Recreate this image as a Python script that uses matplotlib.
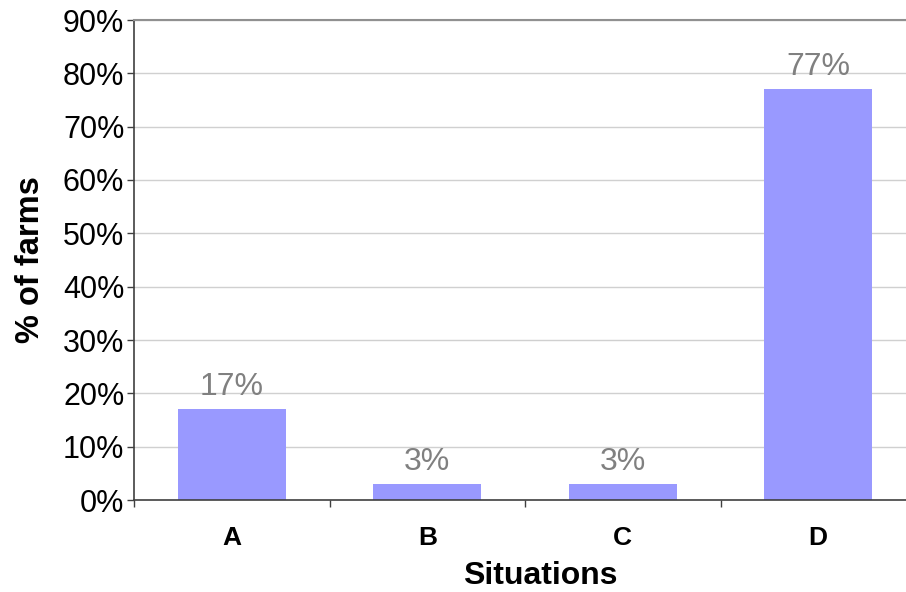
import numpy as np
import matplotlib
matplotlib.use("Agg")
import matplotlib.pyplot as plt
from matplotlib.ticker import FuncFormatter

plt.rcParams["font.family"] = ["Liberation Sans", "DejaVu Sans"]

situations = ["A", "B", "C", "D"]
farms_pct = [17, 3, 3, 77]
value_labels = ["17%", "3%", "3%", "77%"]

fig = plt.figure(figsize=(9.06, 5.92), dpi=100)
ax = fig.add_axes([134 / 906, 1 - 500 / 592, 782 / 906, 480 / 592])

x = np.arange(len(situations))
ax.bar(x, farms_pct, width=0.55, color="#9999ff", zorder=2)

for xi, v, lab in zip(x, farms_pct, value_labels):
    ax.annotate(lab, (xi, v), xytext=(0, 5), textcoords="offset points",
                ha="center", va="bottom", fontsize=23, color="#808080")

ax.set_xlim(-0.5, len(situations) - 0.5)
ax.set_ylim(0, 90)
ax.set_yticks(np.arange(0, 91, 10))
ax.yaxis.set_major_formatter(FuncFormatter(lambda v, p: f"{int(v)}%"))
ax.yaxis.grid(True, color="#d0d0d0", linewidth=1, zorder=0)
ax.set_axisbelow(True)

ax.set_xticks(x)
ax.set_xticklabels(situations, fontsize=19, fontweight="bold")
ax.set_xticks(np.arange(-0.5, len(situations), 1), minor=True)
ax.tick_params(axis="x", which="major", length=0, pad=19)
ax.tick_params(axis="x", which="minor", length=5, width=1, color="#404040", direction="out")
ax.tick_params(axis="y", labelsize=22, length=5, width=1, color="#404040", pad=2)

for s in ["left", "bottom"]:
    ax.spines[s].set_color("#404040")
    ax.spines[s].set_linewidth(1.2)
ax.spines["top"].set_color("#909090")
ax.spines["top"].set_linewidth(1.5)
ax.spines["right"].set_visible(False)

ax.set_xlabel("Situations", fontsize=23, fontweight="bold")
ax.xaxis.set_label_coords(0.519, -0.158, transform=ax.transAxes)
ax.xaxis.label.set_va("center")
ax.set_ylabel("% of farms", fontsize=23.5, fontweight="bold", labelpad=12)

fig.savefig("out.png", dpi=100)
